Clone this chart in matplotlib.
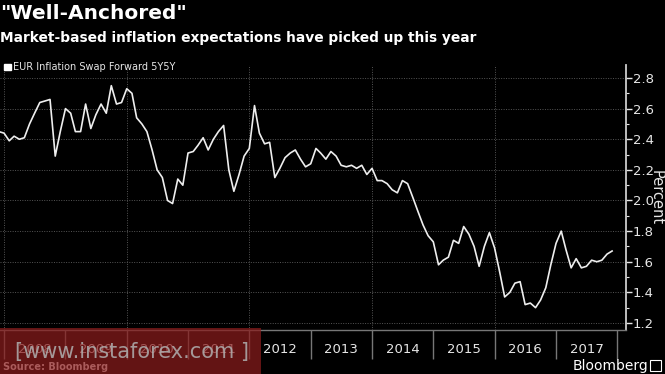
import numpy as np
import pandas as pd
import matplotlib
matplotlib.use("Agg")
import matplotlib.pyplot as plt
from matplotlib.patches import Rectangle

# monthly EUR 5y5y inflation swap forward, Dec 2007 - Dec 2017
months = pd.date_range("2007-12-01", "2017-12-01", freq="MS")
swap = [2.45, 2.44, 2.39, 2.42, 2.40, 2.41, 2.50, 2.57, 2.64, 2.65, 2.66, 2.29,
        2.45, 2.60, 2.57, 2.45, 2.45, 2.63, 2.47, 2.56, 2.63, 2.57, 2.75, 2.63,
        2.64, 2.73, 2.70, 2.54, 2.50, 2.45, 2.33, 2.20, 2.15, 2.00, 1.98, 2.14,
        2.10, 2.31, 2.32, 2.36, 2.41, 2.33, 2.40, 2.45, 2.49, 2.20, 2.06, 2.17,
        2.29, 2.34, 2.62, 2.44, 2.37, 2.38, 2.15, 2.21, 2.28, 2.31, 2.33, 2.27,
        2.22, 2.24, 2.34, 2.31, 2.27, 2.32, 2.29, 2.23, 2.22, 2.23, 2.21, 2.23,
        2.17, 2.21, 2.13, 2.13, 2.11, 2.07, 2.05, 2.13, 2.11, 2.02, 1.93, 1.84,
        1.77, 1.73, 1.58, 1.61, 1.63, 1.74, 1.72, 1.83, 1.78, 1.70, 1.57, 1.70,
        1.79, 1.69, 1.53, 1.37, 1.40, 1.46, 1.47, 1.32, 1.33, 1.30, 1.35, 1.43,
        1.58, 1.72, 1.80, 1.68, 1.56, 1.62, 1.56, 1.57, 1.61, 1.60, 1.61, 1.65,
        1.67]
years = list(range(2008, 2018))
yticks = [1.2, 1.4, 1.6, 1.8, 2.0, 2.2, 2.4, 2.6, 2.8]

bg = "black"
fg = "#e6e6e6"
grid_c = "#555555"

fig = plt.figure(figsize=(6.65, 3.74), dpi=100, facecolor=bg)
ax = fig.add_axes([0.0, 0.1176, 0.9414, 0.7086], facecolor=bg)

ax.plot(months, swap, color="#eeeeee", lw=1.2, zorder=3)

ax.set_xlim(pd.Timestamp("2007-12-08"), pd.Timestamp("2018-02-22"))
ax.set_ylim(1.154, 2.885)

# y axis on the right
ax.yaxis.tick_right()
ax.yaxis.set_label_position("right")
ax.set_yticks(yticks)
ax.set_yticks(np.arange(1.2, 2.85, 0.1), minor=True)
ax.set_yticklabels([f"{v:.1f}" for v in yticks])
ax.tick_params(axis="y", which="major", colors=fg, labelsize=9.5, length=4, width=1, pad=1)
ax.tick_params(axis="y", which="minor", colors=fg, length=2, width=0.8)
ax.set_ylabel("Percent", color=fg, fontsize=10.5, rotation=270, labelpad=7)
for v in yticks:
    ax.axhline(v, color=grid_c, lw=0.7, ls=(0, (1, 1.5)), zorder=1)

# x axis: separators at year boundaries, labels mid-year
ax.set_xticks([pd.Timestamp(f"{y}-01-01") for y in years + [2018]])
ax.set_xticklabels([])
ax.set_xticks([pd.Timestamp(f"{y}-07-02") for y in years], minor=True)
ax.set_xticklabels([str(y) for y in years], minor=True)
ax.tick_params(axis="x", which="major", colors="#777777", length=21, width=1)
ax.tick_params(axis="x", which="minor", colors=fg, length=0, labelsize=9.5, pad=9)
for y in [2008, 2010, 2012, 2014, 2016]:
    ax.axvline(pd.Timestamp(f"{y}-01-01"), color=grid_c, lw=0.7, ls=(0, (1, 1.5)), zorder=1)

for s in ["top", "left"]:
    ax.spines[s].set_visible(False)
ax.spines["right"].set_color("#cccccc")
ax.spines["right"].set_linewidth(1.3)
ax.spines["bottom"].set_color("#777777")
ax.spines["bottom"].set_linewidth(1.0)

# titles and legend
fig.text(0.0, 0.99, '"Well-Anchored"', color="white", fontsize=14.5, fontweight="bold",
         va="top", ha="left")
fig.text(0.0, 0.918, "Market-based inflation expectations have picked up this year",
         color="white", fontsize=9.9, fontweight="bold", va="top", ha="left")
fig.patches.append(Rectangle((0.006, 0.812), 0.010, 0.018, transform=fig.transFigure,
                             color="white"))
fig.text(0.020, 0.821, "EUR Inflation Swap Forward 5Y5Y", color=fg, fontsize=7,
         va="center", ha="left")

fig.text(0.004, 0.018, "Source: Bloomberg", color="white", fontsize=7, fontweight="bold",
         va="center", ha="left")
fig.text(0.975, 0.022, "Bloomberg", color="white", fontsize=10, va="center", ha="right")
fig.patches.append(Rectangle((0.978, 0.008), 0.016, 0.03, transform=fig.transFigure,
                             facecolor="none", edgecolor="white", lw=0.8))

# watermark overlay
fig.patches.append(Rectangle((0.0, 0.0), 0.393, 0.123, transform=fig.transFigure,
                             facecolor="#8a1c1c", alpha=0.72, zorder=5))
fig.text(0.022, 0.058, "[www.instaforex.com ]", color="#b0b0b0", fontsize=15,
         va="center", ha="left", alpha=0.85, zorder=6)

fig.savefig("out.png", dpi=100, facecolor=bg)
